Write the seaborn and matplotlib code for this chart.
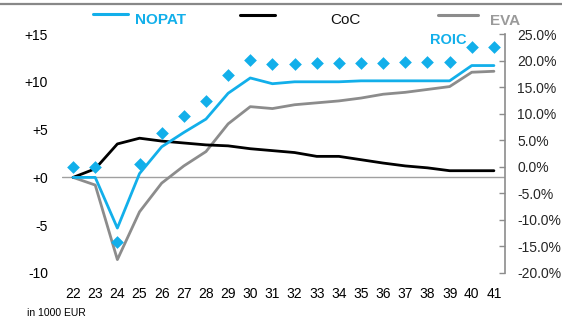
import matplotlib
matplotlib.use("Agg")
import matplotlib.pyplot as plt
from matplotlib.lines import Line2D
import seaborn as sns
import pandas as pd

# ---- data ----
periods = ["22", "23", "24", "25", "26", "27", "28", "29", "30", "31",
           "32", "33", "34", "35", "36", "37", "38", "39", "40", "41"]
nopat = [0.0, 0.0, -5.3, 0.4, 3.2, 4.7, 6.1, 8.8, 10.4, 9.8,
         10.0, 10.0, 10.0, 10.1, 10.1, 10.1, 10.1, 10.1, 11.7, 11.7]
coc = [0.0, 0.9, 3.5, 4.1, 3.8, 3.6, 3.4, 3.3, 3.0, 2.8,
       2.6, 2.2, 2.2, 1.85, 1.5, 1.2, 1.0, 0.7, 0.7, 0.7]
eva = [0.0, -0.8, -8.6, -3.6, -0.6, 1.2, 2.7, 5.6, 7.4, 7.2,
       7.6, 7.8, 8.0, 8.3, 8.7, 8.9, 9.2, 9.5, 11.0, 11.1]
roic = [0.0, 0.0, -14.2, 0.6, 6.4, 9.5, 12.3, 17.2, 20.1, 19.3,
        19.3, 19.6, 19.5, 19.6, 19.6, 19.8, 19.8, 19.8, 22.5, 22.6]
left_ticks = [-10, -5, 0, 5, 10, 15]
left_labels = ["-10", "-5", "+0", "+5", "+10", "+15"]
right_ticks = [-20, -15, -10, -5, 0, 5, 10, 15, 20, 25]

BLUE = "#12AFEA"
BLACK = "#000000"
GREY = "#8C8C8C"

df = pd.DataFrame({"x": list(range(len(periods))), "NOPAT": nopat,
                   "CoC": coc, "EVA": eva, "ROIC": roic})

sns.set_style("white")
plt.rcParams["font.family"] = ["Liberation Sans", "DejaVu Sans"]

fig = plt.figure(figsize=(5.62, 3.2), dpi=100)
ax = fig.add_axes([62 / 562, 1 - 273 / 320, (505 - 62) / 562, (273 - 34) / 320])

ax.axhline(0, color="#A0A0A0", lw=1.0, zorder=1)
sns.lineplot(data=df, x="x", y="EVA", ax=ax, color=GREY, lw=2.0, zorder=2)
sns.lineplot(data=df, x="x", y="CoC", ax=ax, color=BLACK, lw=2.0, zorder=3)
sns.lineplot(data=df, x="x", y="NOPAT", ax=ax, color=BLUE, lw=2.0, zorder=4)

ax.set_xlim(-0.5, len(periods) - 0.5)
ax.set_ylim(-10, 15)
ax.set_xticks(range(len(periods)))
ax.set_xticklabels(periods)
ax.set_yticks(left_ticks)
ax.set_yticklabels(left_labels)
ax.tick_params(axis="both", length=0, labelsize=10, colors="#000000")
ax.tick_params(axis="y", pad=10)
ax.tick_params(axis="x", pad=10)
ax.set_xlabel("")
ax.set_ylabel("")
for s in ax.spines.values():
    s.set_visible(False)

ax2 = ax.twinx()
sns.scatterplot(data=df, x="x", y="ROIC", ax=ax2, marker="D", s=42,
                color=BLUE, edgecolor=BLUE, linewidth=0, zorder=5)
ax2.set_ylim(-20, 25)
ax2.set_yticks(right_ticks)
ax2.set_yticklabels([f"{v:.1f}%" for v in right_ticks])
ax2.tick_params(axis="y", direction="in", length=4, width=1, color=GREY,
                labelsize=10, pad=9)
ax2.set_ylabel("")
for k, s in ax2.spines.items():
    s.set_visible(k == "right")
ax2.spines["right"].set_color(GREY)
ax2.spines["right"].set_linewidth(1.2)

# top border line
fig.add_artist(Line2D([0, 1], [1 - 3.5 / 320, 1 - 3.5 / 320], color="#888888",
                      lw=1.6, transform=fig.transFigure))

# manual legend
narrow = ["Liberation Sans Narrow", "Liberation Sans", "DejaVu Sans"]
def leg(x0, x1, y, color):
    fig.add_artist(Line2D([x0 / 562, x1 / 562], [1 - y / 320, 1 - y / 320],
                          color=color, lw=2.2, transform=fig.transFigure))
leg(93, 128, 13.5, BLUE)
leg(240, 275, 15, BLACK)
leg(438, 478, 15, GREY)
fig.text(135 / 562, 1 - 20 / 320, "NOPAT", color=BLUE, fontsize=11,
         fontweight="bold", family=narrow, va="center", ha="left")
fig.text(330 / 562, 1 - 20 / 320, "CoC", color="#111111", fontsize=11,
         family=narrow, va="center", ha="left")
fig.text(490 / 562, 1 - 21 / 320, "EVA", color="#9A9A9A", fontsize=11,
         fontweight="bold", family=narrow, va="center", ha="left")
fig.text(430 / 562, 1 - 40 / 320, "ROIC", color=BLUE, fontsize=10.5,
         fontweight="bold", family=narrow, va="center", ha="left")

fig.text(27 / 562, 1 - 313 / 320, "in 1000 EUR", color="#000000", fontsize=7.5,
         family=narrow, va="center", ha="left")

fig.savefig("out.png", dpi=100)
